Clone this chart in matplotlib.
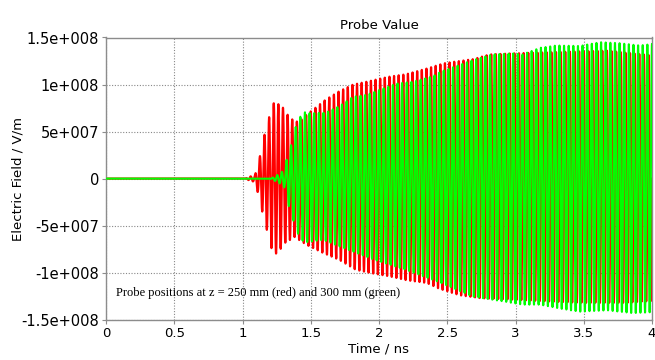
import numpy as np
import matplotlib
matplotlib.use("Agg")
import matplotlib.pyplot as plt

# ---- data (envelope knots, values in V/m) ----
red_up_t = [0, 1.02, 1.05, 1.09, 1.12, 1.14, 1.16, 1.20, 1.236, 1.27, 1.31, 1.34, 1.375, 1.41, 1.47, 1.54,
            1.61, 1.71, 1.81, 1.91, 2.0, 2.08, 2.2, 2.35, 2.44, 2.49, 2.69, 2.81, 2.96, 3.18, 3.42, 3.67, 3.86, 4.0]
red_up_v = [0, 0, 0.2e7, 0.35e7, 1.9e7, 3.2e7, 4.6e7, 6.8e7, 8.3e7, 7.8e7, 7.4e7, 6.5e7, 6.2e7, 6.0e7, 6.8e7, 7.6e7,
            8.4e7, 9.3e7, 10.0e7, 10.3e7, 10.6e7, 10.85e7, 11.1e7, 11.7e7, 12.1e7, 12.3e7, 12.7e7, 13.2e7, 13.3e7,
            13.4e7, 13.5e7, 13.6e7, 13.3e7, 13.1e7]
red_lo_t = [0, 1.02, 1.05, 1.09, 1.12, 1.14, 1.16, 1.19, 1.22, 1.26, 1.30, 1.33, 1.38, 1.47, 1.59, 1.71, 1.83,
            1.96, 2.08, 2.2, 2.35, 2.44, 2.59, 2.74, 2.88, 3.03, 3.3, 3.5, 3.8, 4.0]
red_lo_v = [0, 0, 0.2e7, 0.35e7, 1.9e7, 3.2e7, 4.6e7, 6.0e7, 7.9e7, 8.0e7, 6.9e7, 6.7e7, 6.2e7, 7.05e7, 7.9e7,
            8.65e7, 9.7e7, 10.1e7, 10.4e7, 10.8e7, 11.1e7, 11.7e7, 12.4e7, 12.7e7, 12.8e7, 12.9e7, 13.1e7, 13.2e7,
            13.2e7, 13.0e7]
green_up_t = [0, 1.2, 1.22, 1.27, 1.31, 1.33, 1.36, 1.39, 1.44, 1.49, 1.61, 1.71, 1.81, 1.91, 2.0, 2.13, 2.25,
              2.39, 2.46, 2.69, 2.83, 2.98, 3.05, 3.18, 3.3, 3.47, 3.62, 3.76, 3.91, 4.0]
green_up_v = [0, 0, 0.1e7, 0.5e7, 1.0e7, 2.6e7, 3.7e7, 5.5e7, 7.1e7, 6.95e7, 7.0e7, 7.7e7, 8.7e7, 8.9e7, 9.4e7,
              10.1e7, 10.3e7, 10.85e7, 11.4e7, 12.6e7, 13.2e7, 13.3e7, 13.2e7, 13.9e7, 14.15e7, 14.1e7, 14.5e7,
              14.4e7, 14.15e7, 14.3e7]
green_lo_t = [0, 1.2, 1.22, 1.27, 1.31, 1.33, 1.36, 1.39, 1.45, 1.59, 1.71, 1.96, 2.2, 2.44, 2.69, 2.93, 3.05,
              3.18, 3.32, 3.47, 3.67, 3.86, 4.0]
green_lo_v = [0, 0, 0.1e7, 0.5e7, 1.0e7, 2.6e7, 3.7e7, 5.5e7, 6.8e7, 6.5e7, 7.2e7, 8.6e7, 9.7e7, 11.0e7, 12.55e7,
              13.1e7, 13.4e7, 13.4e7, 13.8e7, 14.15e7, 14.0e7, 14.3e7, 14.2e7]
carrier_ghz = 29.5          # visible oscillation rate read from the column spacing
red_phase = 0.0
green_phase = 1.6

x_ticks = [0, 0.5, 1, 1.5, 2, 2.5, 3, 3.5, 4]
x_tick_labels = ["0", "0.5", "1", "1.5", "2", "2.5", "3", "3.5", "4"]
y_ticks = [1.5e8, 1e8, 5e7, 0, -5e7, -1e8, -1.5e8]
y_tick_labels = ["1.5e+008", "1e+008", "5e+007", "0", "-5e+007", "-1e+008", "-1.5e+008"]


def waveform(t, up_t, up_v, lo_t, lo_v, phase):
    s = np.sin(2 * np.pi * carrier_ghz * t + phase)
    up = np.interp(t, up_t, up_v)
    lo = np.interp(t, lo_t, lo_v)
    return np.where(s > 0, up * s, lo * s)


t = np.linspace(0, 4, 12000)
red = waveform(t, red_up_t, red_up_v, red_lo_t, red_lo_v, red_phase)
green = waveform(t, green_up_t, green_up_v, green_lo_t, green_lo_v, green_phase)

plt.rcParams['font.family'] = ['DejaVu Sans']
fig = plt.figure(figsize=(6.55, 3.6), dpi=100)
ax = fig.add_axes([106 / 655, 1 - 319.7 / 360, (652 - 106) / 655, (319.7 - 37.5) / 360])

ax.plot(t, red, color="#ff0000", lw=1.6, zorder=2)
ax.plot(t, green, color="#00ff00", lw=1.5, zorder=3)

ax.set_xlim(0, 4)
ax.set_ylim(-1.5e8, 1.5e8)
ax.set_xticks(x_ticks)
ax.set_xticklabels(x_tick_labels)
ax.set_yticks(y_ticks)
ax.set_yticklabels(y_tick_labels)
ax.grid(True, color="#888888", linestyle=(0, (1, 1.5)), linewidth=0.8, zorder=1)
ax.set_axisbelow(True)
for sp in ax.spines.values():
    sp.set_color("#8c8c8c")
    sp.set_linewidth(1.0)
ax.tick_params(axis="both", colors="#8c8c8c", labelcolor="black", length=3, width=0.8, pad=2)
ax.tick_params(axis="x", labelsize=9.5)
ax.tick_params(axis="y", labelsize=10.5)

ax.set_title("Probe Value", fontsize=9.5, pad=6)
ax.set_xlabel("Time / ns", fontsize=9.5, labelpad=2)
ax.set_ylabel("Electric Field / V/m", fontsize=9.5)
ax.yaxis.set_label_coords(-0.150, 0.5)

ax.text(0.018, 0.095, "Probe positions at z = 250 mm (red) and 300 mm (green)", transform=ax.transAxes,
        fontsize=9, family="Liberation Serif", va="center", ha="left", zorder=5)

fig.savefig("out.png", dpi=100)
